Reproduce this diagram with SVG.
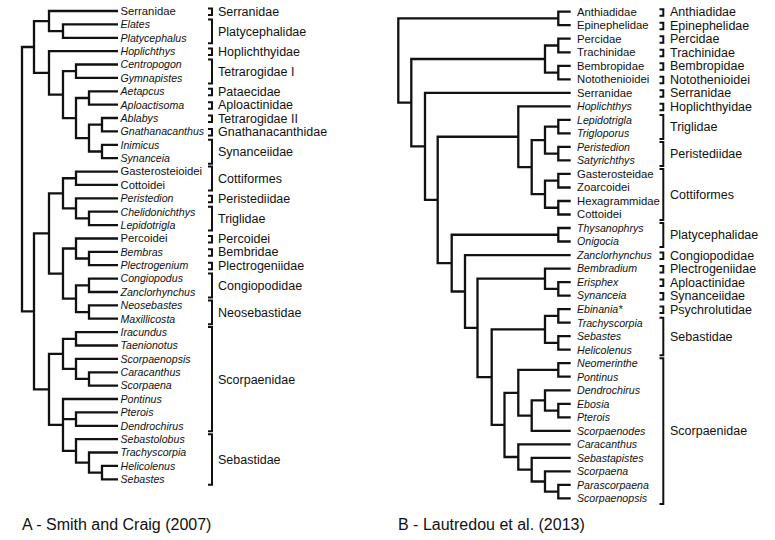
<svg xmlns="http://www.w3.org/2000/svg" width="775" height="540" viewBox="0 0 775 540">
<style>
.br{fill:none;stroke:#111;stroke-width:2.3;stroke-linejoin:miter}
.bk{fill:none;stroke:#111;stroke-width:2}
text{font-family:"Liberation Sans",Arial,sans-serif;fill:#111}
.u{font-size:11.3px}
.i{font-size:10.6px;font-style:italic}
.lb{font-size:12.5px}
.cap{font-size:16px}
</style>
<rect width="775" height="540" fill="#fff"/>

<g id="connectors-a" class="br">
<path d="M118,24.4H63V37.8H118"/>
<path d="M118,11H49V31.1H63"/>
<path d="M118,64.5H76V77.9H118"/>
<path d="M118,91.3H89V104.7H118"/>
<path d="M118,118H102V131.4H118"/>
<path d="M118,144.8H102V158.2H118"/>
<path d="M102,124.7H89V151.5H102"/>
<path d="M89,98H76V138.1H89"/>
<path d="M76,71.2H63V118.05H76"/>
<path d="M118,51.1H49V94.6H63"/>
<path d="M49,21.05H34V72.9H49"/>
<path d="M118,171.6H76V184.9H118"/>
<path d="M118,211.7H89V225.1H118"/>
<path d="M118,198.3H76V218.4H89"/>
<path d="M76,178.25H63V208.35H76"/>
<path d="M118,251.8H89V265.2H118"/>
<path d="M118,238.5H76V258.5H89"/>
<path d="M118,278.6H89V292H118"/>
<path d="M118,305.4H89V318.7H118"/>
<path d="M89,285.3H76V312.05H89"/>
<path d="M76,248.5H63V298.7H76"/>
<path d="M63,193.3H49V273.6H63"/>
<path d="M118,332.1H76V345.5H118"/>
<path d="M118,372.3H89V385.6H118"/>
<path d="M118,358.9H76V378.95H89"/>
<path d="M76,338.8H63V368.9H76"/>
<path d="M118,412.4H76V425.8H118"/>
<path d="M118,465.9H102V479.3H118"/>
<path d="M118,452.5H89V472.6H102"/>
<path d="M118,439.2H76V462.55H89"/>
<path d="M118,399H63V450.9H76M63,419.1H76"/>
<path d="M63,353.85H49V424.95H63"/>
<path d="M49,233.45H34V389.4H49"/>
<path d="M34,47H22V311.4H34"/>
</g>

<g id="connectors-b" class="br">
<path d="M570.7,11.7H558.3V25.2H570.7"/>
<path d="M570.7,38.7H558.3V52.3H570.7"/>
<path d="M570.7,65.8H558.3V79.3H570.7"/>
<path d="M558.3,45.5H545V72.55H558.3"/>
<path d="M570.7,119.9H558.3V133.4H570.7"/>
<path d="M570.7,146.9H558.3V160.4H570.7"/>
<path d="M558.3,126.65H545V153.65H558.3"/>
<path d="M570.7,173.9H558.3V187.5H570.7"/>
<path d="M570.7,201H558.3V214.5H570.7"/>
<path d="M558.3,180.7H545V207.75H558.3"/>
<path d="M545,140.15H531.7V194.2H545"/>
<path d="M570.7,106.3H518.3V167.2H531.7"/>
<path d="M570.7,228H558.3V241.5H570.7"/>
<path d="M570.7,282.1H558.3V295.6H570.7"/>
<path d="M570.7,268.6H545V288.85H558.3"/>
<path d="M570.7,309.1H558.3V322.7H570.7"/>
<path d="M570.7,336.2H558.3V349.7H570.7"/>
<path d="M558.3,315.9H545V342.95H558.3"/>
<path d="M570.7,363.2H558.3V376.7H570.7"/>
<path d="M570.7,403.8H558.3V417.3H570.7"/>
<path d="M570.7,390.3H545V410.55H558.3"/>
<path d="M545,400.4H531.7V430.8H570.7"/>
<path d="M558.3,369.95H518.3V415.6H531.7"/>
<path d="M570.7,484.9H558.3V498.4H570.7"/>
<path d="M570.7,471.4H545V491.65H558.3"/>
<path d="M570.7,457.9H531.7V481.5H545"/>
<path d="M570.7,444.3H518.3V469.7H531.7"/>
<path d="M518.3,392.8H504.5V457H518.3"/>
<path d="M545,329.4H491.7V424.9H504.5"/>
<path d="M545,278.7H477.5V377.15H491.7"/>
<path d="M570.7,255.1H465V327.9H477.5"/>
<path d="M558.3,234.75H451.7V291.5H465"/>
<path d="M518.3,136.75H437.7V263.1H451.7"/>
<path d="M570.7,92.8H425V199.9H437.7"/>
<path d="M545,59H411.3V146.35H425"/>
<path d="M558.3,18.45H398.3V102.7H411.3"/>
</g>

<g id="leaves-a">
<g id="a-serranidae"><text class="u" x="120.5" y="14.8">Serranidae</text></g>
<g id="a-elates"><text class="i" x="120.5" y="28.2">Elates</text></g>
<g id="a-platycephalus"><text class="i" x="120.5" y="41.6">Platycephalus</text></g>
<g id="a-hoplichthys"><text class="i" x="120.5" y="54.9">Hoplichthys</text></g>
<g id="a-centropogon"><text class="i" x="120.5" y="68.3">Centropogon</text></g>
<g id="a-gymnapistes"><text class="i" x="120.5" y="81.7">Gymnapistes</text></g>
<g id="a-aetapcus"><text class="i" x="120.5" y="95.1">Aetapcus</text></g>
<g id="a-aploactisoma"><text class="i" x="120.5" y="108.5">Aploactisoma</text></g>
<g id="a-ablabys"><text class="i" x="120.5" y="121.8">Ablabys</text></g>
<g id="a-gnathanacanthus"><text class="i" x="120.5" y="135.2">Gnathanacanthus</text></g>
<g id="a-inimicus"><text class="i" x="120.5" y="148.6">Inimicus</text></g>
<g id="a-synanceia"><text class="i" x="120.5" y="162">Synanceia</text></g>
<g id="a-gasterosteioidei"><text class="u" x="120.5" y="175.4">Gasterosteioidei</text></g>
<g id="a-cottoidei"><text class="u" x="120.5" y="188.7">Cottoidei</text></g>
<g id="a-peristedion"><text class="i" x="120.5" y="202.1">Peristedion</text></g>
<g id="a-chelidonichthys"><text class="i" x="120.5" y="215.5">Chelidonichthys</text></g>
<g id="a-lepidotrigla"><text class="i" x="120.5" y="228.9">Lepidotrigla</text></g>
<g id="a-percoidei"><text class="u" x="120.5" y="242.3">Percoidei</text></g>
<g id="a-bembras"><text class="i" x="120.5" y="255.6">Bembras</text></g>
<g id="a-plectrogenium"><text class="i" x="120.5" y="269">Plectrogenium</text></g>
<g id="a-congiopodus"><text class="i" x="120.5" y="282.4">Congiopodus</text></g>
<g id="a-zanclorhynchus"><text class="i" x="120.5" y="295.8">Zanclorhynchus</text></g>
<g id="a-neosebastes"><text class="i" x="120.5" y="309.2">Neosebastes</text></g>
<g id="a-maxillicosta"><text class="i" x="120.5" y="322.5">Maxillicosta</text></g>
<g id="a-iracundus"><text class="i" x="120.5" y="335.9">Iracundus</text></g>
<g id="a-taenionotus"><text class="i" x="120.5" y="349.3">Taenionotus</text></g>
<g id="a-scorpaenopsis"><text class="i" x="120.5" y="362.7">Scorpaenopsis</text></g>
<g id="a-caracanthus"><text class="i" x="120.5" y="376.1">Caracanthus</text></g>
<g id="a-scorpaena"><text class="i" x="120.5" y="389.4">Scorpaena</text></g>
<g id="a-pontinus"><text class="i" x="120.5" y="402.8">Pontinus</text></g>
<g id="a-pterois"><text class="i" x="120.5" y="416.2">Pterois</text></g>
<g id="a-dendrochirus"><text class="i" x="120.5" y="429.6">Dendrochirus</text></g>
<g id="a-sebastolobus"><text class="i" x="120.5" y="443">Sebastolobus</text></g>
<g id="a-trachyscorpia"><text class="i" x="120.5" y="456.3">Trachyscorpia</text></g>
<g id="a-helicolenus"><text class="i" x="120.5" y="469.7">Helicolenus</text></g>
<g id="a-sebastes"><text class="i" x="120.5" y="483.1">Sebastes</text></g>
</g>

<g id="groups-a">
<g id="ga-serranidae"><path class="bk" d="M208,8.5H212V15H208"/><text class="lb" x="218" y="15.5">Serranidae</text></g>
<g id="ga-platycephalidae"><path class="bk" d="M208,19.4H212V43.3H208"/><text class="lb" x="218" y="35.6">Platycephalidae</text></g>
<g id="ga-hoplichthyidae"><path class="bk" d="M208,48.6H212V55.1H208"/><text class="lb" x="218" y="55.6">Hoplichthyidae</text></g>
<g id="ga-tetrarogidae1"><path class="bk" d="M208,59.5H212V83.4H208"/><text class="lb" x="218" y="75.7">Tetrarogidae I</text></g>
<g id="ga-pataecidae"><path class="bk" d="M208,88.8H212V95.3H208"/><text class="lb" x="218" y="95.8">Pataecidae</text></g>
<g id="ga-aploactinidae"><path class="bk" d="M208,102.2H212V108.7H208"/><text class="lb" x="218" y="109.2">Aploactinidae</text></g>
<g id="ga-tetrarogidae2"><path class="bk" d="M208,115.5H212V122H208"/><text class="lb" x="218" y="122.5">Tetrarogidae II</text></g>
<g id="ga-gnathanacanthidae"><path class="bk" d="M208,128.9H212V135.4H208"/><text class="lb" x="218" y="135.9">Gnathanacanthidae</text></g>
<g id="ga-synanceiidae"><path class="bk" d="M208,139.8H212V163.7H208"/><text class="lb" x="218" y="156">Synanceiidae</text></g>
<g id="ga-cottiformes"><path class="bk" d="M208,166.6H212V190.4H208"/><text class="lb" x="218" y="182.7">Cottiformes</text></g>
<g id="ga-peristediidae"><path class="bk" d="M208,195.8H212V202.3H208"/><text class="lb" x="218" y="202.8">Peristediidae</text></g>
<g id="ga-triglidae"><path class="bk" d="M208,206.7H212V230.6H208"/><text class="lb" x="218" y="222.9">Triglidae</text></g>
<g id="ga-percoidei"><path class="bk" d="M208,236H212V242.5H208"/><text class="lb" x="218" y="243">Percoidei</text></g>
<g id="ga-bembridae"><path class="bk" d="M208,249.3H212V255.8H208"/><text class="lb" x="218" y="256.3">Bembridae</text></g>
<g id="ga-plectrogeniidae"><path class="bk" d="M208,262.7H212V269.2H208"/><text class="lb" x="218" y="269.7">Plectrogeniidae</text></g>
<g id="ga-congiopodidae"><path class="bk" d="M208,273.6H212V297.5H208"/><text class="lb" x="218" y="289.8">Congiopodidae</text></g>
<g id="ga-neosebastidae"><path class="bk" d="M208,300.4H212V324.2H208"/><text class="lb" x="218" y="316.5">Neosebastidae</text></g>
<g id="ga-scorpaenidae"><path class="bk" d="M208,327.1H212V431.3H208"/><text class="lb" x="218" y="383.5">Scorpaenidae</text></g>
<g id="ga-sebastidae"><path class="bk" d="M208,434.2H212V484.8H208"/><text class="lb" x="218" y="463.8">Sebastidae</text></g>
</g>

<g id="leaves-b">
<g id="b-anthiadidae"><text class="u" x="577" y="15.5">Anthiadidae</text></g>
<g id="b-epinephelidae"><text class="u" x="577" y="29">Epinephelidae</text></g>
<g id="b-percidae"><text class="u" x="577" y="42.5">Percidae</text></g>
<g id="b-trachinidae"><text class="u" x="577" y="56.1">Trachinidae</text></g>
<g id="b-bembropidae"><text class="u" x="577" y="69.6">Bembropidae</text></g>
<g id="b-notothenioidei"><text class="u" x="577" y="83.1">Notothenioidei</text></g>
<g id="b-serranidae"><text class="u" x="577" y="96.6">Serranidae</text></g>
<g id="b-hoplichthys"><text class="i" x="577" y="110.1">Hoplichthys</text></g>
<g id="b-lepidotrigla"><text class="i" x="577" y="123.7">Lepidotrigla</text></g>
<g id="b-trigloporus"><text class="i" x="577" y="137.2">Trigloporus</text></g>
<g id="b-peristedion"><text class="i" x="577" y="150.7">Peristedion</text></g>
<g id="b-satyrichthys"><text class="i" x="577" y="164.2">Satyrichthys</text></g>
<g id="b-gasterosteidae"><text class="u" x="577" y="177.7">Gasterosteidae</text></g>
<g id="b-zoarcoidei"><text class="u" x="577" y="191.3">Zoarcoidei</text></g>
<g id="b-hexagrammidae"><text class="u" x="577" y="204.8">Hexagrammidae</text></g>
<g id="b-cottoidei"><text class="u" x="577" y="218.3">Cottoidei</text></g>
<g id="b-thysanophrys"><text class="i" x="577" y="231.8">Thysanophrys</text></g>
<g id="b-onigocia"><text class="i" x="577" y="245.3">Onigocia</text></g>
<g id="b-zanclorhynchus"><text class="i" x="577" y="258.9">Zanclorhynchus</text></g>
<g id="b-bembradium"><text class="i" x="577" y="272.4">Bembradium</text></g>
<g id="b-erisphex"><text class="i" x="577" y="285.9">Erisphex</text></g>
<g id="b-synanceia"><text class="i" x="577" y="299.4">Synanceia</text></g>
<g id="b-ebinania"><text class="i" x="577" y="312.9">Ebinania*</text></g>
<g id="b-trachyscorpia"><text class="i" x="577" y="326.5">Trachyscorpia</text></g>
<g id="b-sebastes"><text class="i" x="577" y="340">Sebastes</text></g>
<g id="b-helicolenus"><text class="i" x="577" y="353.5">Helicolenus</text></g>
<g id="b-neomerinthe"><text class="i" x="577" y="367">Neomerinthe</text></g>
<g id="b-pontinus"><text class="i" x="577" y="380.5">Pontinus</text></g>
<g id="b-dendrochirus"><text class="i" x="577" y="394.1">Dendrochirus</text></g>
<g id="b-ebosia"><text class="i" x="577" y="407.6">Ebosia</text></g>
<g id="b-pterois"><text class="i" x="577" y="421.1">Pterois</text></g>
<g id="b-scorpaenodes"><text class="i" x="577" y="434.6">Scorpaenodes</text></g>
<g id="b-caracanthus"><text class="i" x="577" y="448.1">Caracanthus</text></g>
<g id="b-sebastapistes"><text class="i" x="577" y="461.7">Sebastapistes</text></g>
<g id="b-scorpaena"><text class="i" x="577" y="475.2">Scorpaena</text></g>
<g id="b-parascorpaena"><text class="i" x="577" y="488.7">Parascorpaena</text></g>
<g id="b-scorpaenopsis"><text class="i" x="577" y="502.2">Scorpaenopsis</text></g>
</g>

<g id="groups-b">
<g id="gb-anthiadidae"><path class="bk" d="M659.5,9.2H663.3V15.7H659.5"/><text class="lb" x="670" y="16.2">Anthiadidae</text></g>
<g id="gb-epinephelidae"><path class="bk" d="M659.5,22.7H663.3V29.2H659.5"/><text class="lb" x="670" y="29.7">Epinephelidae</text></g>
<g id="gb-percidae"><path class="bk" d="M659.5,36.2H663.3V42.7H659.5"/><text class="lb" x="670" y="43.2">Percidae</text></g>
<g id="gb-trachinidae"><path class="bk" d="M659.5,49.8H663.3V56.3H659.5"/><text class="lb" x="670" y="56.8">Trachinidae</text></g>
<g id="gb-bembropidae"><path class="bk" d="M659.5,63.3H663.3V69.8H659.5"/><text class="lb" x="670" y="70.3">Bembropidae</text></g>
<g id="gb-notothenioidei"><path class="bk" d="M659.5,76.8H663.3V83.3H659.5"/><text class="lb" x="670" y="83.8">Notothenioidei</text></g>
<g id="gb-serranidae"><path class="bk" d="M659.5,90.3H663.3V96.8H659.5"/><text class="lb" x="670" y="97.3">Serranidae</text></g>
<g id="gb-hoplichthyidae"><path class="bk" d="M659.5,103.8H663.3V110.3H659.5"/><text class="lb" x="670" y="110.8">Hoplichthyidae</text></g>
<g id="gb-triglidae"><path class="bk" d="M659.5,114.9H663.3V138.9H659.5"/><text class="lb" x="670" y="131.2">Triglidae</text></g>
<g id="gb-peristediidae"><path class="bk" d="M659.5,141.9H663.3V165.9H659.5"/><text class="lb" x="670" y="158.2">Peristediidae</text></g>
<g id="gb-cottiformes"><path class="bk" d="M659.5,168.9H663.3V220H659.5"/><text class="lb" x="670" y="198.7">Cottiformes</text></g>
<g id="gb-platycephalidae"><path class="bk" d="M659.5,223H663.3V247H659.5"/><text class="lb" x="670" y="239.3">Platycephalidae</text></g>
<g id="gb-congiopodidae"><path class="bk" d="M659.5,252.6H663.3V259.1H659.5"/><text class="lb" x="670" y="259.6">Congiopodidae</text></g>
<g id="gb-plectrogeniidae"><path class="bk" d="M659.5,266.1H663.3V272.6H659.5"/><text class="lb" x="670" y="273.1">Plectrogeniidae</text></g>
<g id="gb-aploactinidae"><path class="bk" d="M659.5,279.6H663.3V286.1H659.5"/><text class="lb" x="670" y="286.6">Aploactinidae</text></g>
<g id="gb-synanceiidae"><path class="bk" d="M659.5,293.1H663.3V299.6H659.5"/><text class="lb" x="670" y="300.1">Synanceiidae</text></g>
<g id="gb-psychrolutidae"><path class="bk" d="M659.5,306.6H663.3V313.1H659.5"/><text class="lb" x="670" y="313.6">Psychrolutidae</text></g>
<g id="gb-sebastidae"><path class="bk" d="M659.5,317.7H663.3V355.2H659.5"/><text class="lb" x="670" y="340.7">Sebastidae</text></g>
<g id="gb-scorpaenidae"><path class="bk" d="M659.5,358.2H663.3V503.9H659.5"/><text class="lb" x="670" y="435.3">Scorpaenidae</text></g>
</g>

<g id="captions">
<text class="cap" x="22" y="530">A - Smith and Craig (2007)</text>
<text class="cap" x="398" y="530">B - Lautredou et al. (2013)</text>
</g>
</svg>
